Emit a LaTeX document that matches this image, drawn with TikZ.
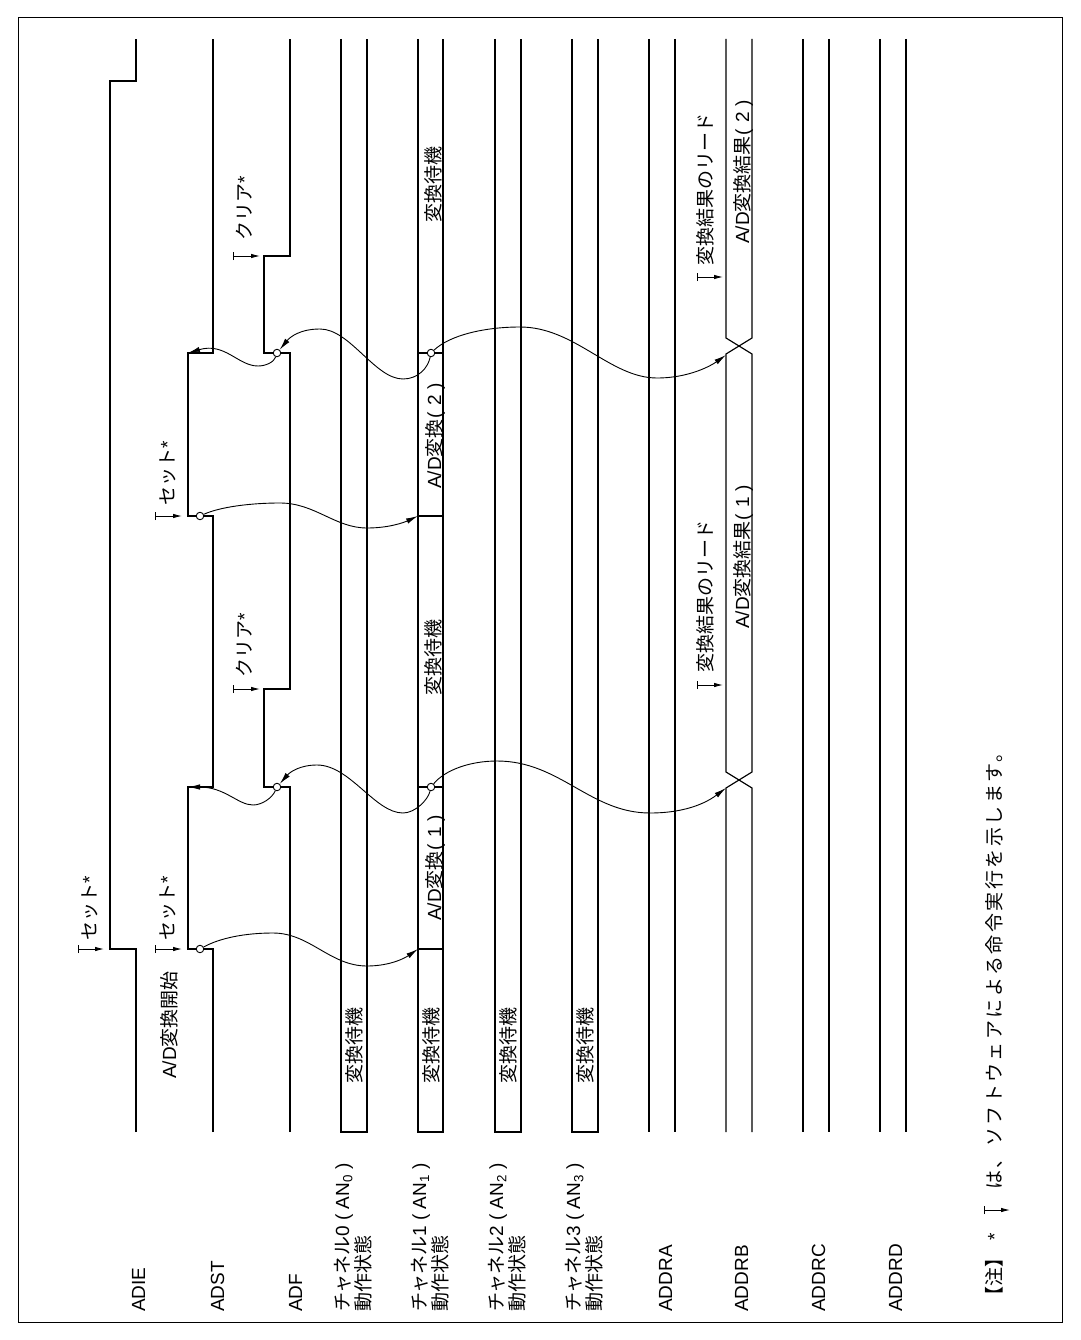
\documentclass[tikz,border=0pt]{standalone}
\usepackage{fontspec}
\setmainfont{Liberation Sans}
\newfontfamily\jp{Noto Sans CJK JP}
\newfontfamily\jpw{Noto Sans CJK JP}[LetterSpace=13]
\usetikzlibrary{arrows.meta}
\newcommand\myLP{\hspace{1pt}(\hspace{6pt}}
\newcommand\myRP{\hspace{6pt})}
\newcommand\myAN[2]{{\jp チャネル}#1\hspace{5pt}(\hspace{5pt}AN\textsubscript{#2}\hspace{5pt})}
\begin{document}
\begin{tikzpicture}[x=1pt,y=-1pt,
  sig/.style={line width=1.15pt, line join=miter},
  curve/.style={line width=0.9pt, -{Latex[length=12pt,width=5.5pt]}},
  mk/.style={line width=0.9pt, {Bar[width=8pt]}-{Latex[length=9pt,width=4.5pt]}},
  ring/.style={circle, draw, line width=0.9pt, fill=white, inner sep=0pt, minimum size=7.5pt},
  lbl/.style={rotate=90, anchor=base west, inner sep=0pt, font=\fontsize{19}{22}\selectfont},
]
\useasboundingbox (0,0) rectangle (1080,1340);
\draw[line width=1pt] (18,18) rectangle (1062,1322);

% ---- signal waveforms ----
% ADIE
\draw[sig] (136,1132) -- (136,949) -- (110,949) -- (110,81) -- (136,81) -- (136,39);
% ADST
\draw[sig] (213,1132) -- (213,949) -- (188,949) -- (188,787) -- (213,787) -- (213,516) -- (188,516) -- (188,353) -- (213,353) -- (213,39);
% ADF
\draw[sig] (290,1132) -- (290,787) -- (264,787) -- (264,689) -- (290,689) -- (290,353) -- (264,353) -- (264,256) -- (290,256) -- (290,39);
% channels 0,2,3
\foreach \x in {341,495,572}{
  \draw[sig] (\x,39) -- (\x,1132) -- (\x+26,1132) -- (\x+26,39);
}
% channel 1
\draw[sig] (418,39) -- (418,1132) -- (443,1132) -- (443,39);
\foreach \y in {949,787,516,353}{ \draw[sig] (418,\y) -- (443,\y); }
% ADDRA, ADDRC, ADDRD
\foreach \x in {649,803,880}{
  \draw[sig] (\x,39) -- (\x,1132);
  \draw[sig] (\x+26,39) -- (\x+26,1132);
}
% ADDRB with crossings
\draw[sig] (726,1132) -- (726,788) -- (752,772) -- (752,354) -- (726,338) -- (726,39);
\draw[sig] (752,1132) -- (752,788) -- (726,772) -- (726,354) -- (752,338) -- (752,39);

% ---- named points ----
\coordinate (st1) at (188,787);
\coordinate (ch1a) at (418,949);
\coordinate (rbA) at (726,788);
\coordinate (st2) at (188,353);
\coordinate (ch1b) at (418,516);
\coordinate (rbB) at (726,355);
\node[ring] (o1) at (200,949) {};
\node[ring] (o2) at (277,787) {};
\node[ring] (o3) at (431,787) {};
\node[ring] (o4) at (200,516) {};
\node[ring] (o5) at (277,353) {};
\node[ring] (o6) at (431,353) {};

% ---- cycle 1 curves ----
\draw[curve] (o1) .. controls (220,938) and (245,933) .. (273,933) .. controls (310,933) and (330,966) .. (367,966) .. controls (390,966) and (405,958) .. (ch1a);
\draw[curve] (o2) .. controls (272,798) and (262,805) .. (253,805) .. controls (238,805) and (225,787) .. (st1);
\draw[curve] (o3) .. controls (428,800) and (415,813) .. (403,813) .. controls (375,813) and (350,765) .. (317,765) .. controls (300,765) and (290,772) .. (o2);
\draw[curve] (o3) .. controls (445,770) and (470,761) .. (497,761) .. controls (560,761) and (590,813) .. (650,813) .. controls (690,813) and (710,800) .. (rbA);

% ---- cycle 2 curves ----
\draw[curve] (o4) .. controls (220,507) and (250,503) .. (280,503) .. controls (315,503) and (335,528) .. (367,528) .. controls (390,528) and (405,522) .. (ch1b);
\draw[curve] (o5) .. controls (274,362) and (266,366) .. (258,366) .. controls (238,366) and (225,342) .. (st2);
\draw[curve] (o6) .. controls (428,368) and (418,379) .. (403,379) .. controls (375,379) and (350,329) .. (320,329) .. controls (300,329) and (290,337) .. (o5);
\draw[curve] (o6) .. controls (450,335) and (485,327) .. (520,327) .. controls (575,327) and (610,378) .. (657,378) .. controls (690,378) and (712,365) .. (rbB);

% ---- software markers ----
\draw[mk] (78,949) coordinate (m1a) -- (104,949) coordinate (m1b);
\draw[mk] (155,949) coordinate (m2a) -- (182,949) coordinate (m2b);
\draw[mk] (233,689) coordinate (m3a) -- (260,689) coordinate (m3b);
\draw[mk] (155,516) coordinate (m4a) -- (182,516) coordinate (m4b);
\draw[mk] (233,256) coordinate (m5a) -- (260,256) coordinate (m5b);
\draw[mk] (697,685) coordinate (m6a) -- (723,685) coordinate (m6b);
\draw[mk] (697,277) coordinate (m7a) -- (723,277) coordinate (m7b);
\draw[mk] (984,1210) coordinate (m8a) -- (1010,1210) coordinate (m8b);

% ---- signal names ----
\node[lbl] (nADIE) at (145,1312) {ADIE};
\node[lbl] (nADST) at (224,1312) {ADST};
\node[lbl] (nADF) at (302,1312) {ADF};
\node[lbl] (nc0a) at (349,1312) {\myAN{0}{0}};
\node[lbl] (nc0b) at (370,1312) {\jp 動作状態};
\node[lbl] (nc1a) at (426,1312) {\myAN{1}{1}};
\node[lbl] (nc1b) at (447,1312) {\jp 動作状態};
\node[lbl] (nc2a) at (503,1312) {\myAN{2}{2}};
\node[lbl] (nc2b) at (524,1312) {\jp 動作状態};
\node[lbl] (nc3a) at (580,1312) {\myAN{3}{3}};
\node[lbl] (nc3b) at (601,1312) {\jp 動作状態};
\node[lbl] (nADDRA) at (672,1312) {ADDRA};
\node[lbl] (nADDRB) at (748,1312) {ADDRB};
\node[lbl] (nADDRC) at (825,1312) {ADDRC};
\node[lbl] (nADDRD) at (902,1312) {ADDRD};

% ---- in-diagram texts ----
\node[lbl] (tstart) at (176,1079) {A/D{\jp 変換開始}};
\node[lbl] (tset1) at (96,941) {{\jp セット}*};
\node[lbl] (tset2) at (174,941) {{\jp セット}*};
\node[lbl] (tclr1) at (251,678) {{\jp クリア}*};
\node[lbl] (tset3) at (174,506) {{\jp セット}*};
\node[lbl] (tclr2) at (251,241) {{\jp クリア}*};

\node[lbl] (w0) at (361.5,1084) {\jp 変換待機};
\node[lbl] (w1) at (438.5,1084) {\jp 変換待機};
\node[lbl] (w2) at (515.5,1084) {\jp 変換待機};
\node[lbl] (w3) at (592.5,1084) {\jp 変換待機};
\node[lbl] (cv1) at (441,921) {A/D{\jp 変換}\myLP 1\myRP};
\node[lbl] (w1m) at (440,696) {\jp 変換待機};
\node[lbl] (cv2) at (441,489) {A/D{\jp 変換}\myLP 2\myRP};
\node[lbl] (w1t) at (440,223) {\jp 変換待機};

\node[lbl] (rd1) at (712,673) {\jp 変換結果のリード};
\node[lbl] (rs1) at (749,629) {A/D{\jp 変換結果}\myLP 1\myRP};
\node[lbl] (rd2) at (712,266) {\jp 変換結果のリード};
\node[lbl] (rs2) at (749,244) {A/D{\jp 変換結果}\myLP 2\myRP};

% ---- footnote ----
\node[lbl] (fn1) at (1001,1306) {\jp 【注】};
\node[lbl] (fn2) at (1001,1241) {*};
\node[lbl] (fn3) at (1001,1190) {\jpw は、ソフトウェアによる命令実行を示します。};
\end{tikzpicture}
\end{document}
